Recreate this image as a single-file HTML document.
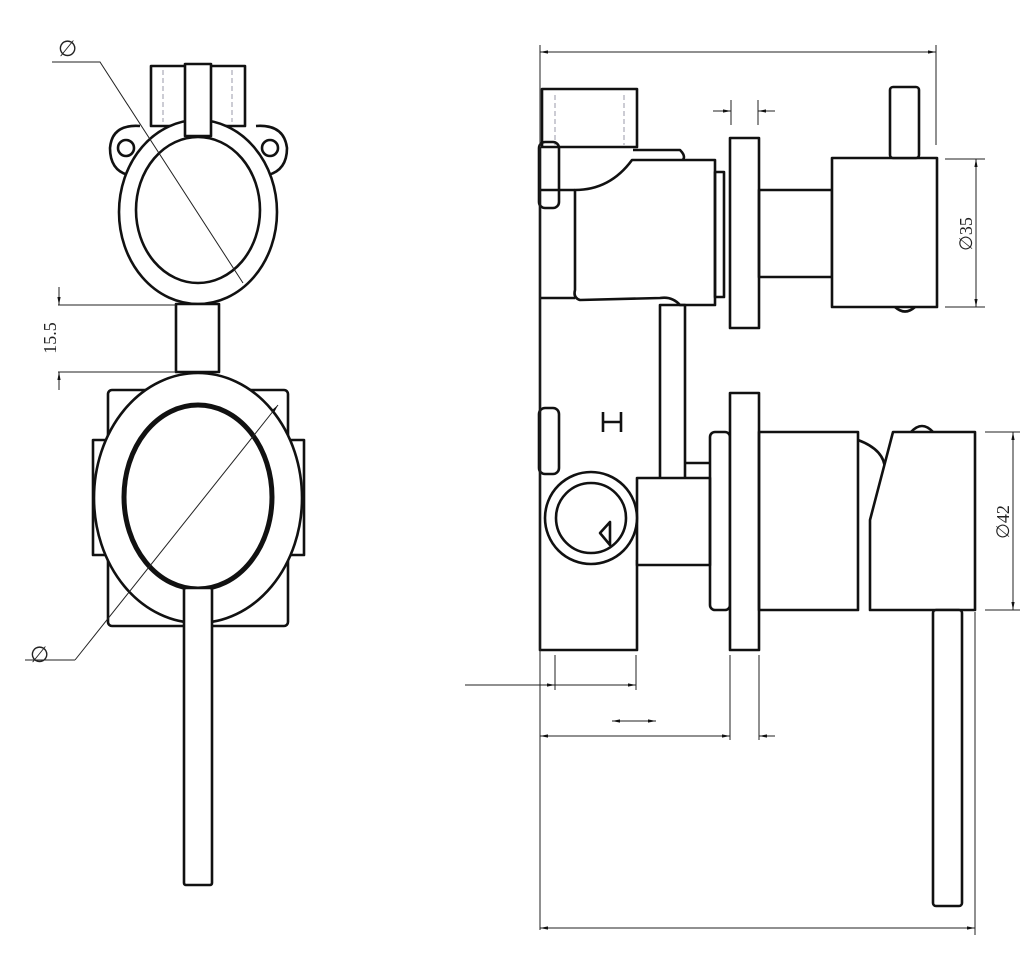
<!DOCTYPE html>
<html><head><meta charset="utf-8"><style>
html,body{margin:0;padding:0;background:#fff;}
svg{display:block;}
text{font-family:"Liberation Serif",serif;fill:#222;}
</style></head><body>
<svg width="1024" height="980" viewBox="0 0 1024 980" xmlns="http://www.w3.org/2000/svg">
<defs>
<marker id="a" viewBox="0 0 10 10" refX="10" refY="5" markerWidth="8" markerHeight="8" orient="auto-start-reverse"><path d="M0,3 L10,5 L0,7 z" fill="#111"/></marker>
</defs>
<g fill="none" stroke="#111" stroke-width="2.6" stroke-linejoin="round">
<!-- LEFT VIEW upper -->
<rect x="151" y="66" width="94" height="60"/>
<line x1="163" y1="70" x2="163" y2="122" stroke="#99a" stroke-width="1" stroke-dasharray="5,3"/>
<line x1="232" y1="70" x2="232" y2="122" stroke="#99a" stroke-width="1" stroke-dasharray="5,3"/>
<path d="M140,126 Q112,124 110,148 Q110,170 128,175"/>
<path d="M256,126 Q284,124 287,148 Q287,170 268,175"/>
<circle cx="126" cy="148" r="8"/>
<circle cx="270" cy="148" r="8"/>
<ellipse cx="198" cy="212" rx="79" ry="92" fill="#fff"/>
<ellipse cx="198" cy="210" rx="62" ry="73"/>
<rect x="185" y="64" width="26" height="72" fill="#fff"/>
<rect x="176" y="304" width="43" height="68" fill="#fff"/>
<!-- LEFT VIEW lower -->
<rect x="108" y="390" width="180" height="236" rx="4"/>
<rect x="93" y="440" width="16" height="115"/>
<rect x="288" y="440" width="16" height="115"/>
<ellipse cx="198" cy="498" rx="104" ry="125" fill="#fff"/>
<ellipse cx="198" cy="497" rx="74" ry="92" stroke-width="5"/>
<rect x="184" y="588" width="28" height="297" rx="2" fill="#fff"/>
</g>
<g fill="none" stroke="#222" stroke-width="1">
<polyline points="52,62 100,62 243,283"/>
<line x1="75" y1="660" x2="278" y2="405" marker-end="url(#a)"/>
<line x1="25" y1="660" x2="75" y2="660"/>
<line x1="58" y1="305" x2="176" y2="305"/>
<line x1="58" y1="372" x2="176" y2="372"/>
<line x1="59" y1="287" x2="59" y2="305" marker-end="url(#a)"/>
<line x1="59" y1="390" x2="59" y2="372" marker-end="url(#a)"/>
</g>
<text x="58" y="56" font-size="22">∅</text>
<text x="30" y="662" font-size="22">∅</text>
<text transform="translate(56,338) rotate(-90)" font-size="18" text-anchor="middle">15.5</text>

<!-- RIGHT VIEW -->
<g fill="none" stroke="#111" stroke-width="2.6" stroke-linejoin="round">
<rect x="542" y="89" width="95" height="58"/>
<line x1="555" y1="95" x2="555" y2="145" stroke="#99a" stroke-width="1" stroke-dasharray="5,3"/>
<line x1="624" y1="95" x2="624" y2="145" stroke="#99a" stroke-width="1" stroke-dasharray="5,3"/>
<path d="M540,147 L540,650 L637,650 L637,560"/>
<rect x="539" y="142" width="20" height="66" rx="6"/>
<rect x="539" y="408" width="20" height="66" rx="6"/>
<path d="M633,150 L680,150 Q688,158 680,162 L638,165"/>
<path d="M575,190 Q610,190 632,160 L715,160 L715,305 L680,305 Q672,296 660,298 L580,300 Q573,298 575,290 Z" fill="#fff"/>
<path d="M540,190 L575,190 M540,298 L575,298"/>
<rect x="715" y="172" width="9" height="125"/>
<rect x="730" y="138" width="29" height="190" fill="#fff"/>
<rect x="759" y="190" width="73" height="87"/>
<rect x="832" y="158" width="105" height="149" fill="#fff"/>
<rect x="890" y="87" width="29" height="71" rx="3" fill="#fff"/>
<path d="M895,307 Q905,316 915,307"/>
<rect x="660" y="305" width="25" height="175"/>
<path d="M660,480 L640,480 M685,463 L710,463"/>
<path d="M603,412 L603,432 M621,412 L621,432 M603,422 L621,422"/>
<rect x="637" y="478" width="73" height="87" fill="#fff"/>
<circle cx="591" cy="518" r="46" fill="#fff"/>
<circle cx="591" cy="518" r="35"/>
<path d="M600,533 L610,522 L610,545 Z"/>
<rect x="710" y="432" width="20" height="178" rx="5"/>
<rect x="730" y="393" width="29" height="257" fill="#fff"/>
<rect x="759" y="432" width="99" height="178"/>
<path d="M858,440 Q885,450 885,470 L885,605"/>
<path d="M893,432 L975,432 L975,610 L870,610 L870,520 Z" fill="#fff"/>
<path d="M911,432 Q922,420 933,432"/>
<rect x="933" y="610" width="29" height="296" rx="3" fill="#fff"/>
</g>
<g fill="none" stroke="#222" stroke-width="1">
<line x1="540" y1="45" x2="540" y2="930"/>
<line x1="936" y1="45" x2="936" y2="145"/>
<line x1="540" y1="52" x2="936" y2="52" marker-start="url(#a)" marker-end="url(#a)"/>
<line x1="975" y1="612" x2="975" y2="935"/>
<line x1="540" y1="928" x2="975" y2="928" marker-start="url(#a)" marker-end="url(#a)"/>
<line x1="731" y1="100" x2="731" y2="125"/>
<line x1="758" y1="100" x2="758" y2="125"/>
<line x1="713" y1="111" x2="731" y2="111" marker-end="url(#a)"/>
<line x1="775" y1="111" x2="758" y2="111" marker-end="url(#a)"/>
<line x1="945" y1="159" x2="985" y2="159"/>
<line x1="945" y1="307" x2="985" y2="307"/>
<line x1="976" y1="159" x2="976" y2="307" marker-start="url(#a)" marker-end="url(#a)"/>
<line x1="985" y1="432" x2="1020" y2="432"/>
<line x1="985" y1="610" x2="1020" y2="610"/>
<line x1="1013" y1="432" x2="1013" y2="610" marker-start="url(#a)" marker-end="url(#a)"/>
<line x1="555" y1="655" x2="555" y2="690"/>
<line x1="636" y1="655" x2="636" y2="690"/>
<line x1="465" y1="685" x2="555" y2="685" marker-end="url(#a)"/>
<line x1="555" y1="685" x2="636" y2="685" marker-end="url(#a)"/>
<line x1="730" y1="655" x2="730" y2="740"/>
<line x1="759" y1="655" x2="759" y2="740"/>
<line x1="540" y1="736" x2="730" y2="736" marker-start="url(#a)" marker-end="url(#a)"/>
<line x1="775" y1="736" x2="759" y2="736" marker-end="url(#a)"/>
<line x1="612" y1="721" x2="656" y2="721" marker-start="url(#a)" marker-end="url(#a)"/>
</g>
<text transform="translate(972,234) rotate(-90)" font-size="18" text-anchor="middle">∅35</text>
<text transform="translate(1009,522) rotate(-90)" font-size="18" text-anchor="middle">∅42</text>
</svg>
</body></html>
